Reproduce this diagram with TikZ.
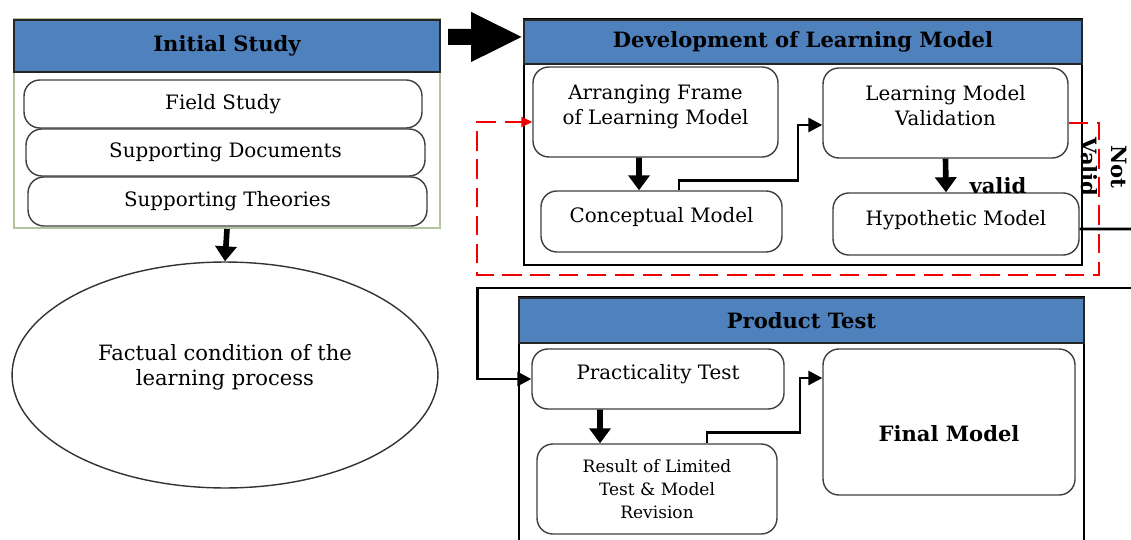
\documentclass[tikz,border=0pt]{standalone}
\usepackage{fontspec}
\setmainfont{DejaVu Serif}
\usetikzlibrary{arrows.meta,shapes.geometric}
\definecolor{hdrblue}{HTML}{4F81BD}
\definecolor{olivegray}{HTML}{B3C39C}
\definecolor{linered}{HTML}{F00000}
\tikzset{
  frame/.style={draw=black, line width=1.2pt, fill=white},
  hdr/.style={draw=black!85, line width=0.8pt, fill=hdrblue, font=\bfseries\fontsize{12}{14}\selectfont},
  rbox/.style={draw=black!75, line width=0.8pt, rounded corners=9pt, fill=white, align=center,
    inner sep=2pt, font=\fontsize{11.3}{14}\selectfont},
  upper/.style={text depth=0.3cm},
  flow/.style={-{Triangle[length=0.3cm,width=0.42cm]}, line width=3.2pt},
  link/.style={-{Triangle[length=0.28cm,width=0.28cm]}, line width=1.6pt},
  backloop/.style={-{Triangle[length=0.22cm,width=0.2cm]}, draw=linered, line width=1.1pt,
    dash pattern=on 11pt off 5pt},
}

\begin{document}
\begin{tikzpicture}[x=0.02cm,y=-0.02cm]
\useasboundingbox (0,0) rectangle (1131,540);
\clip (0,0) rectangle (1131,540);

% initial study
\node[frame, draw=olivegray, minimum width=8.52cm, minimum height=4.18cm] (init) at (227,123.5) {};
\node[hdr, minimum width=8.52cm, minimum height=1.04cm] (inith) at (227,46) {Initial Study};
\node[rbox, minimum width=7.96cm, minimum height=0.96cm] (field) at (223,104) {Field Study};
\node[rbox, minimum width=7.98cm, minimum height=0.94cm] (docs) at (225.5,152.5) {Supporting Documents};
\node[rbox, minimum width=7.98cm, minimum height=0.98cm] (theo) at (227.5,201.5) {Supporting Theories};

\node[ellipse, draw=black!80, line width=0.8pt, minimum width=8.52cm, minimum height=4.52cm,
  align=center, text depth=0.4cm, font=\fontsize{12}{14.5}\selectfont] (fact) at (225,375)
  {Factual condition of the\\learning process};

% development of learning model
\node[frame, minimum width=11.16cm, minimum height=4.92cm] (dev) at (803,142) {};
\node[hdr, minimum width=11.16cm, minimum height=0.88cm] (devh) at (803,42) {Development of Learning Model};
\node[rbox, upper, minimum width=4.9cm, minimum height=1.8cm] (arr) at (655.5,112) {Arranging Frame\\of Learning Model};
\node[rbox, upper, text depth=0.27cm, minimum width=4.82cm, minimum height=1.22cm] (conc) at (661.5,221.5) {Conceptual Model};
\node[rbox, upper, minimum width=4.9cm, minimum height=1.8cm] (val) at (945.5,113) {Learning Model\\Validation};
\node[rbox, upper, text depth=0.25cm, minimum width=4.92cm, minimum height=1.24cm] (hyp) at (956,224) {Hypothetic Model};

\node[rotate=-90, align=center, font=\bfseries\fontsize{12}{17}\selectfont] (notval) at (1104,167) {Not\\Valid};

% product test
\node[frame, minimum width=11.3cm, minimum height=5.26cm] (prod) at (801.5,428.5) {};
\node[hdr, minimum width=11.3cm, minimum height=0.9cm] (prodh) at (801.5,320.5) {Product Test};
\node[rbox, upper, text depth=0.27cm, minimum width=5.04cm, minimum height=1.2cm] (prac) at (658,379) {Practicality Test};
\node[rbox, minimum width=4.8cm, minimum height=1.8cm, font=\fontsize{9.7}{13}\selectfont] (res) at (657,489)
  {Result of Limited\\Test \& Model\\Revision};
\node[rbox, text height=0.8cm, minimum width=5.04cm, minimum height=2.92cm,
  font=\bfseries\fontsize{12}{14}\selectfont] (final) at (949,422) {Final Model};

\coordinate (rexit) at (1135,229);
\coordinate (rentry) at (1135,288);

% connectors
\draw[-{Triangle[length=1.04cm,width=0.92cm]}, line width=0.32cm]
  ([xshift=0.14cm,yshift=-0.38cm]init.north east) -- ([yshift=-0.38cm]dev.north west);
\draw[flow] (init.south) -- (fact.north);
\draw[flow] ([xshift=-0.33cm]arr.south) -- ([xshift=-0.45cm]conc.north);
\draw[link] ([xshift=0.35cm]conc.north) -- ++(0,-10) -- ++(119,0) |- ([yshift=-0.24cm]val.west);
\draw[flow] (val.south) -- ([xshift=-0.2cm]hyp.north)
  node[pos=0.8, anchor=west, xshift=0.3cm, font=\bfseries\fontsize{12}{14}\selectfont] {valid};
\draw[backloop] ([yshift=-0.2cm]val.east) -- ++(30,0) -- ++(0,152)
  -| ([xshift=-1.1cm,yshift=-0.2cm]arr.west) -- ([yshift=-0.2cm]arr.west);
\draw[line width=1.6pt] ([yshift=-0.1cm]hyp.east) -- (rexit);
\draw[link] (rentry) -| ([xshift=-1.08cm]prac.west) -- (prac.west);
\draw[flow] ([xshift=-1.16cm]prac.south) -- ([xshift=-1.14cm]res.north);
\draw[link] ([xshift=1.0cm]res.north) -- ++(0,-11) -- ++(93,0) |- ([yshift=0.88cm]final.west);
\end{tikzpicture}
\end{document}
